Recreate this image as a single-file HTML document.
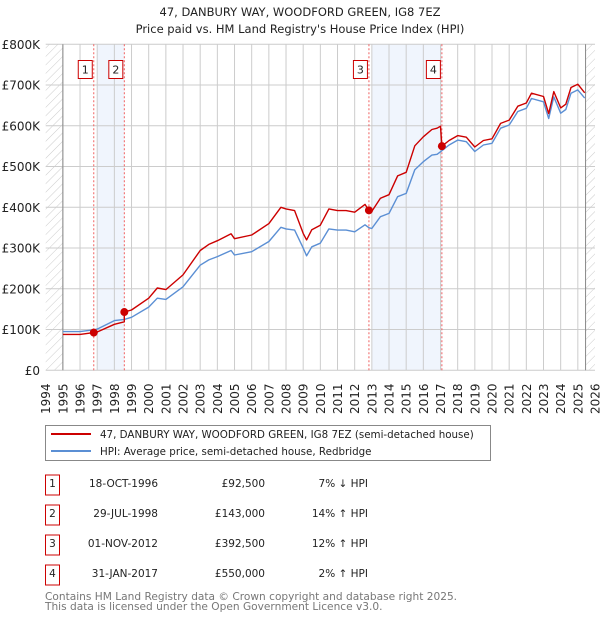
<!DOCTYPE html>
<html><head><meta charset="utf-8"><style>
body{margin:0;background:#fff;font-family:"DejaVu Sans","Liberation Sans",sans-serif;}
svg{display:block}
</style></head><body>
<svg id="chart" width="600" height="620" viewBox="0 0 600 620">
<defs>
<pattern id="hatch" width="6" height="6" patternUnits="userSpaceOnUse" patternTransform="rotate(45)">
<line x1="0" y1="0" x2="0" y2="6" stroke="#ccc" stroke-width="1"/>
</pattern>
</defs>
<text x="300" y="16" text-anchor="middle" font-size="11.5" fill="#222">47, DANBURY WAY, WOODFORD GREEN, IG8 7EZ</text>
<text x="300" y="33" text-anchor="middle" font-size="11.5" fill="#222">Price paid vs. HM Land Registry's House Price Index (HPI)</text>
<g id="plot"></g>
<g id="legend">
<rect x="45.5" y="425.5" width="445" height="35" fill="#fff" stroke="#888"/>
<line x1="51" y1="434" x2="91" y2="434" stroke="#cc0000" stroke-width="2"/>
<text x="100" y="438" font-size="10.3" fill="#222">47, DANBURY WAY, WOODFORD GREEN, IG8 7EZ (semi-detached house)</text>
<line x1="51" y1="451" x2="91" y2="451" stroke="#5b8fd4" stroke-width="2"/>
<text x="100" y="455" font-size="10.3" fill="#222">HPI: Average price, semi-detached house, Redbridge</text>
</g>
<g id="table" font-size="10.5" fill="#222"></g>
<text x="45" y="600" font-size="10.6" fill="#777">Contains HM Land Registry data © Crown copyright and database right 2025.</text>
<text x="45" y="610" font-size="10.6" fill="#777">This data is licensed under the Open Government Licence v3.0.</text>
</svg>
<script>
const hpiDates=[1995,1996,1996.8,1997,1998,1998.58,1999,2000,2000.5,2001,2002,2003,2003.5,2004,2004.8,2005,2006,2007,2007.7,2008,2008.5,2009,2009.2,2009.5,2010,2010.5,2011,2011.5,2012,2012.6,2012.83,2013,2013.5,2014,2014.5,2015,2015.5,2016,2016.5,2016.8,2017.08,2017.5,2018,2018.5,2019,2019.5,2020,2020.5,2021,2021.5,2022,2022.3,2023,2023.3,2023.6,2024,2024.3,2024.6,2025,2025.4];
const hpiValues=[95,95,99.5,101,122,125,130,155,177,174,205,258,271,279,294,283,291,316,351,347,344,300,281,303,312,347,344,344,340,357,350,348,377,385,426,434,492,512,528,530,539,553,565,561,537,553,557,594,602,635,643,667,659,618,671,631,640,680,688,668];
const propDates=[1995,1996,1996.8,1997,1998,1998.58,1998.58,1999,2000,2000.5,2001,2002,2003,2003.5,2004,2004.8,2005,2006,2007,2007.7,2008,2008.5,2009,2009.2,2009.5,2010,2010.5,2011,2011.5,2012,2012.6,2012.83,2013,2013.5,2014,2014.5,2015,2015.5,2016,2016.5,2016.8,2017.0,2017.08,2017.5,2018,2018.5,2019,2019.5,2020,2020.5,2021,2021.5,2022,2022.3,2023,2023.3,2023.6,2024,2024.3,2024.6,2025,2025.4];
const propValues=[88,88,92.5,94,113,119,143,148,177,202,198,234,294,309,318,335,323,332,360,400,396,392,336,320,345,356,396,392,392,388,407,392.5,390,422,431,477,486,551,573,591,594,599,550,564,576,572,548,564,568,606,614,648,656,680,672,630,684,644,653,694,702,681];
const saleDates=[1996.8,1998.58,2012.83,2017.08];
const saleValues=[92.5,143,392.5,550];
const saleLabels=["1","2","3","4"];
const saleDateText=["18-OCT-1996","29-JUL-1998","01-NOV-2012","31-JAN-2017"];
const salePriceText=["£92,500","£143,000","£392,500","£550,000"];
const saleHpiText=["7% ↓ HPI","14% ↑ HPI","12% ↑ HPI","2% ↑ HPI"];
const shadeStarts=[1997,2013];
const shadeEnds=[1998.58,2017.08];
const yTicks=[0,100,200,300,400,500,600,700,800];
const yTickLabels=["£0","£100K","£200K","£300K","£400K","£500K","£600K","£700K","£800K"];

const NS="http://www.w3.org/2000/svg";
const X0=45.7,X1=595,Y0=370.3,Y1=44.3;
const xs=y=>X0+(y-1994)*(X1-X0)/32;
const ys=v=>Y0-v*(Y0-Y1)/800;
function mk(tag,attrs,parent){const e=document.createElementNS(NS,tag);for(const k in attrs)e.setAttribute(k,attrs[k]);parent.appendChild(e);return e;}
const plot=document.getElementById('plot');
let h1=mk('rect',{x:X0,y:Y1,width:xs(1995)-X0,height:Y0-Y1,fill:'url(#hatch)'},plot);


let h2=mk('rect',{x:xs(2025.45),y:Y1,width:X1-xs(2025.45),height:Y0-Y1,fill:'url(#hatch)'},plot);


for(let i=0;i<shadeStarts.length;i++){
 const r=mk('rect',{x:xs(shadeStarts[i]),y:Y1,width:xs(shadeEnds[i])-xs(shadeStarts[i]),height:Y0-Y1,fill:'#f0f5fd'},plot);
 
 
}
for(let yr=1995;yr<=2025;yr++){
 const l=mk('line',{x1:xs(yr),x2:xs(yr),y1:Y1,y2:Y0,stroke:'#ccc','stroke-width':1},plot);
 
 
}
yTicks.forEach((v,i)=>{
 const l=mk('line',{x1:X0,x2:X1,y1:ys(v),y2:ys(v),stroke:'#ccc','stroke-width':1},plot);
 
 
 const t=mk('text',{x:40,y:ys(v)+4.5,'text-anchor':'end','font-size':12,fill:'#222'},plot);
 t.textContent=yTickLabels[i];
 
 
});
mk('line',{x1:xs(1995),x2:xs(1995),y1:Y1,y2:Y0,stroke:'#888'},plot);
mk('line',{x1:xs(2025.45),x2:xs(2025.45),y1:Y1,y2:Y0,stroke:'#888'},plot);
for(let yr=1994;yr<=2026;yr++){
 const t=mk('text',{transform:`translate(${xs(yr)+4.5},414) rotate(-90)`,'font-size':12,fill:'#222'},plot);
 t.textContent=String(yr);
 
 
}
saleDates.forEach((d,i)=>{
 const l=mk('line',{x1:xs(d),x2:xs(d),y1:Y1,y2:Y0,stroke:'#f06060','stroke-width':1,'stroke-dasharray':'2,2'},plot);
 
 
});
function path(dates,vals,color,name){
 const p=mk('path',{d:dates.map((d,i)=>(i?'L':'M')+xs(d).toFixed(1)+','+ys(vals[i]).toFixed(1)).join(''),fill:'none',stroke:color,'stroke-width':1.4,'stroke-linejoin':'round'},plot);
 
 
}
path(hpiDates,hpiValues,'#5b8fd4','hpi-line');
path(propDates,propValues,'#cc0000','property-price-line');
saleDates.forEach((d,i)=>{
 const c=mk('circle',{cx:xs(d),cy:ys(saleValues[i]),r:4,fill:'#cc0000'},plot);
 
 
 const b=mk('rect',{x:xs(d)-15.5,y:60.5,width:14,height:18,fill:'#fff',stroke:'#cc0000'},plot);
 
 
 const t=mk('text',{x:xs(d)-8.5,y:73.5,'text-anchor':'middle','font-size':11,fill:'#222'},plot);
 t.textContent=saleLabels[i];
 
 
});
const tb=document.getElementById('table');
saleLabels.forEach((lab,i)=>{
 const cy=485+i*30;
 const b=mk('rect',{x:45.5,y:cy-10,width:14,height:20,fill:'#fff',stroke:'#cc0000'},tb);
 
 
 const t=mk('text',{x:52.5,y:cy+2,'text-anchor':'middle'},tb);t.textContent=lab;
 
 
 const a=mk('text',{x:158,y:cy+2,'text-anchor':'end'},tb);a.textContent=saleDateText[i];
 
 
 const p=mk('text',{x:265,y:cy+2,'text-anchor':'end'},tb);p.textContent=salePriceText[i];
 
 
 const h=mk('text',{x:368,y:cy+2,'text-anchor':'end'},tb);h.textContent=saleHpiText[i];
 
 
});
</script>
</body></html>
